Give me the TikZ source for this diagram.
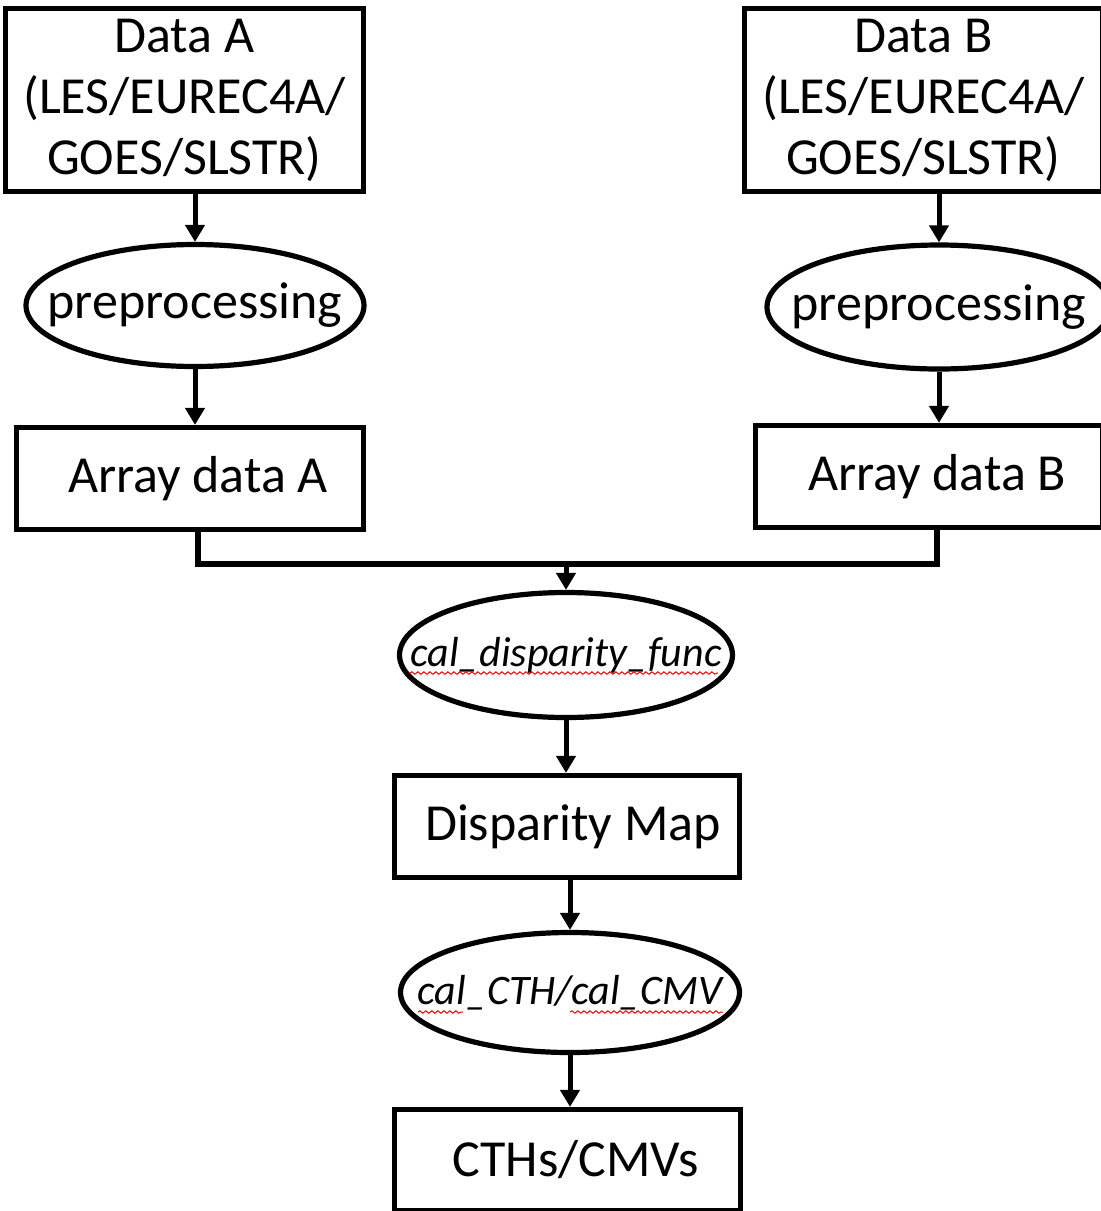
\documentclass[tikz,border=0pt]{standalone}
\usepackage{fontspec}
\setmainfont{Carlito}
\usetikzlibrary{arrows.meta,shapes.geometric,decorations.pathmorphing}
\begin{document}
\begin{tikzpicture}[x=0.5pt,y=-0.5pt,
 box/.style={draw, line width=2.6pt, rectangle, inner sep=0pt, align=center, font=\fontsize{26}{30.5}\selectfont},
 oval/.style={draw, line width=2.6pt, ellipse, inner sep=0pt},
 bigtxt/.style={font=\fontsize{26}{30.5}\selectfont},
 smalltxt/.style={font=\fontsize{21}{25}\selectfont\itshape},
 arr/.style={line width=2.5pt, -{Triangle[width=9.5pt,length=8.5pt]}},
 wire/.style={line width=2.6pt},
 spell/.style={red, line width=0.5pt, decorate, decoration={snake, amplitude=0.6pt, segment length=3pt}}
]
\useasboundingbox (0,0) rectangle (1101,1211);
% top boxes
\node[box, minimum width=179pt, minimum height=91.5pt] (DA) at (184.5,100) {Data A\\(LES/EUREC4A/\\GOES/SLSTR)};
\node[box, minimum width=179pt, minimum height=91.5pt] (DB) at (923.5,100) {Data B\\(LES/EUREC4A/\\GOES/SLSTR)};
% preprocessing ellipses
\node[oval, minimum width=169pt, minimum height=61pt, label={[bigtxt, name=PAt]center:preprocessing}] (PA) at (195,305.5) {};
\node[oval, minimum width=172pt, minimum height=62pt, label={[bigtxt, name=PBt]center:preprocessing}] (PB) at (939,307) {};
% array boxes
\node[box, minimum width=173.5pt, minimum height=51pt] (AA) at (190,478.5) {\hspace{8pt}Array data A};
\node[box, minimum width=173.5pt, minimum height=51pt] (AB) at (929,476.5) {\hspace{8pt}Array data B};
% junction
\coordinate (J) at (565,564);
% disparity function
\node[oval, minimum width=166.5pt, minimum height=62.5pt, label={[smalltxt, name=DFt]center:cal\_disparity\_func}] (DF) at (566,655) {};
\node[box, minimum width=172.5pt, minimum height=51pt] (DM) at (567,826.5) {\hspace{6pt}Disparity Map};
\node[oval, minimum width=169.5pt, minimum height=60pt, label={[smalltxt, name=CFt]center:cal\_CTH/cal\_CMV}] (CF) at (570,992.5) {};
\node[box, minimum width=173pt, minimum height=50.5pt] (CO) at (567.5,1160) {\hspace{8pt}CTHs/CMVs};
% connectors
\draw[arr] (DA.south -| PA.north) -- (PA.north);
\draw[arr] (DB.south -| PB.north) -- (PB.north);
\draw[arr] (PA.south) -- (PA.south |- AA.north);
\draw[arr] (PB.south) -- (PB.south |- AB.north);
\draw[wire] ([xshift=4pt]AA.south) -- ([xshift=4pt]AA.south |- J) -- ([xshift=4pt]AB.south |- J) -- ([xshift=4pt]AB.south);
\draw[arr] (DF.north |- J) -- (DF.north);
\draw[arr] (DF.south) -- (DF.south |- DM.north);
\draw[arr] (DM.south -| CF.north) -- (CF.north);
\draw[arr] (CF.south) -- (CF.south |- CO.north);
% spell-check marks
\draw[spell] (410,673) -- (718,673);
\draw[spell] (418,1012) -- (463,1012);
\draw[spell] (570,1012) -- (723,1012);
\end{tikzpicture}
\end{document}
